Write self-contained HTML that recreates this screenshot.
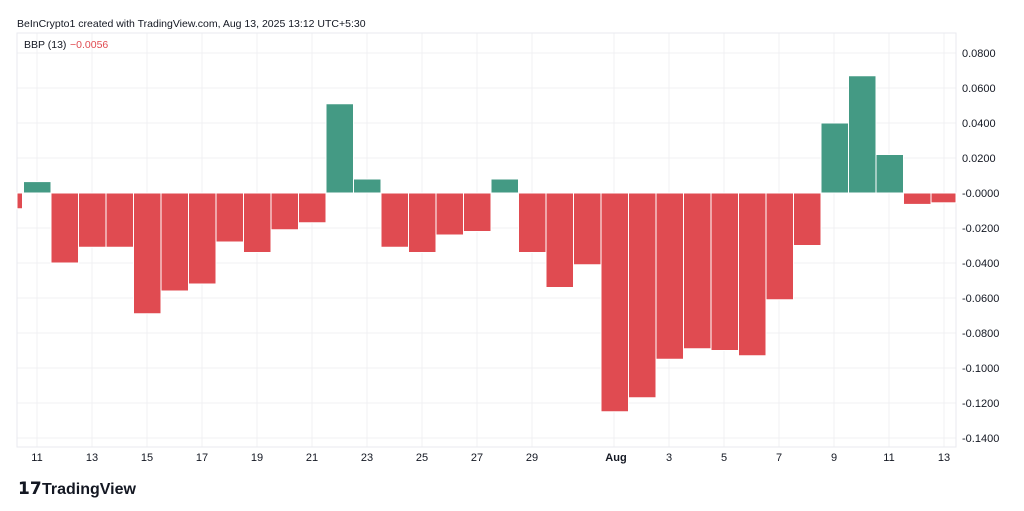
<!DOCTYPE html>
<html><head><meta charset="utf-8"><style>
body{margin:0;background:#fff;width:1024px;height:506px;overflow:hidden;font-family:"Liberation Sans",sans-serif}
</style></head><body>
<svg width="1024" height="506" xmlns="http://www.w3.org/2000/svg" font-family="Liberation Sans, sans-serif">
<rect width="1024" height="506" fill="#fff"/>
<g stroke="#f0f1f3" stroke-width="1">
<line x1="37" y1="33" x2="37" y2="447"/><line x1="92" y1="33" x2="92" y2="447"/><line x1="147" y1="33" x2="147" y2="447"/><line x1="202" y1="33" x2="202" y2="447"/><line x1="257" y1="33" x2="257" y2="447"/><line x1="312" y1="33" x2="312" y2="447"/><line x1="367" y1="33" x2="367" y2="447"/><line x1="422" y1="33" x2="422" y2="447"/><line x1="477" y1="33" x2="477" y2="447"/><line x1="532" y1="33" x2="532" y2="447"/><line x1="614" y1="33" x2="614" y2="447"/><line x1="669" y1="33" x2="669" y2="447"/><line x1="724" y1="33" x2="724" y2="447"/><line x1="779" y1="33" x2="779" y2="447"/><line x1="834" y1="33" x2="834" y2="447"/><line x1="889" y1="33" x2="889" y2="447"/><line x1="944" y1="33" x2="944" y2="447"/>
<line x1="17" y1="53" x2="956" y2="53"/><line x1="17" y1="88" x2="956" y2="88"/><line x1="17" y1="123" x2="956" y2="123"/><line x1="17" y1="158" x2="956" y2="158"/><line x1="17" y1="193" x2="956" y2="193"/><line x1="17" y1="228" x2="956" y2="228"/><line x1="17" y1="263" x2="956" y2="263"/><line x1="17" y1="298" x2="956" y2="298"/><line x1="17" y1="333" x2="956" y2="333"/><line x1="17" y1="368" x2="956" y2="368"/><line x1="17" y1="403" x2="956" y2="403"/><line x1="17" y1="438" x2="956" y2="438"/>
</g>
<rect x="17" y="33" width="939" height="414" fill="none" stroke="#e8eaef"/>
<g fill="#e04b51" stroke="#fff" stroke-width="1">
<rect x="17" y="193" width="5.5" height="15.75"/>
<rect x="51" y="193" width="27.5" height="70"/>
<rect x="78.5" y="193" width="27.5" height="54.25"/>
<rect x="106" y="193" width="27.5" height="54.25"/>
<rect x="133.5" y="193" width="27.5" height="120.75"/>
<rect x="161" y="193" width="27.5" height="98"/>
<rect x="188.5" y="193" width="27.5" height="91"/>
<rect x="216" y="193" width="27.5" height="49"/>
<rect x="243.5" y="193" width="27.5" height="59.5"/>
<rect x="271" y="193" width="27.5" height="36.75"/>
<rect x="298.5" y="193" width="27.5" height="29.75"/>
<rect x="381" y="193" width="27.5" height="54.25"/>
<rect x="408.5" y="193" width="27.5" height="59.5"/>
<rect x="436" y="193" width="27.5" height="42"/>
<rect x="463.5" y="193" width="27.5" height="38.5"/>
<rect x="518.5" y="193" width="27.5" height="59.5"/>
<rect x="546" y="193" width="27.5" height="94.5"/>
<rect x="573.5" y="193" width="27.5" height="71.75"/>
<rect x="601" y="193" width="27.5" height="218.75"/>
<rect x="628.5" y="193" width="27.5" height="204.75"/>
<rect x="656" y="193" width="27.5" height="166.25"/>
<rect x="683.5" y="193" width="27.5" height="155.75"/>
<rect x="711" y="193" width="27.5" height="157.5"/>
<rect x="738.5" y="193" width="27.5" height="162.75"/>
<rect x="766" y="193" width="27.5" height="106.75"/>
<rect x="793.5" y="193" width="27.5" height="52.5"/>
<rect x="903.5" y="193" width="27.5" height="11.4"/>
<rect x="931" y="193" width="25" height="9.8"/>
</g>
<g fill="#449a84" stroke="#fff" stroke-width="1">
<rect x="23.5" y="181.6" width="27.5" height="11.4"/>
<rect x="326" y="103.75" width="27.5" height="89.25"/>
<rect x="353.5" y="179" width="27.5" height="14"/>
<rect x="491" y="179" width="27.5" height="14"/>
<rect x="821" y="123" width="27.5" height="70"/>
<rect x="848.5" y="75.75" width="27.5" height="117.25"/>
<rect x="876" y="154.5" width="27.5" height="38.5"/>
</g>
<g font-size="11" fill="#131722">
<text x="962" y="57">0.0800</text><text x="962" y="92">0.0600</text><text x="962" y="127">0.0400</text><text x="962" y="162">0.0200</text><text x="962" y="197">-0.0000</text><text x="962" y="232">-0.0200</text><text x="962" y="267">-0.0400</text><text x="962" y="302">-0.0600</text><text x="962" y="337">-0.0800</text><text x="962" y="372">-0.1000</text><text x="962" y="407">-0.1200</text><text x="962" y="442">-0.1400</text>
</g>
<g font-size="11" fill="#131722" text-anchor="middle">
<text x="37" y="461">11</text><text x="92" y="461">13</text><text x="147" y="461">15</text><text x="202" y="461">17</text><text x="257" y="461">19</text><text x="312" y="461">21</text><text x="367" y="461">23</text><text x="422" y="461">25</text><text x="477" y="461">27</text><text x="532" y="461">29</text><text x="616" y="461" font-weight="bold">Aug</text><text x="669" y="461">3</text><text x="724" y="461">5</text><text x="779" y="461">7</text><text x="834" y="461">9</text><text x="889" y="461">11</text><text x="944" y="461">13</text>
</g>
<text x="17" y="27" font-size="10.5" fill="#131722">BeInCrypto1 created with TradingView.com, Aug 13, 2025 13:12 UTC+5:30</text>
<text x="24" y="48" font-size="10.5" fill="#131722">BBP (13)</text>
<text x="70" y="48" font-size="10.5" fill="#e04b51">−0.0056</text>
<text x="18" y="494" font-size="17" font-weight="bold" fill="#131722">𝟭𝟳</text>
<text x="42" y="494" font-size="16" font-weight="bold" fill="#131722">TradingView</text>
</svg>
</body></html>
